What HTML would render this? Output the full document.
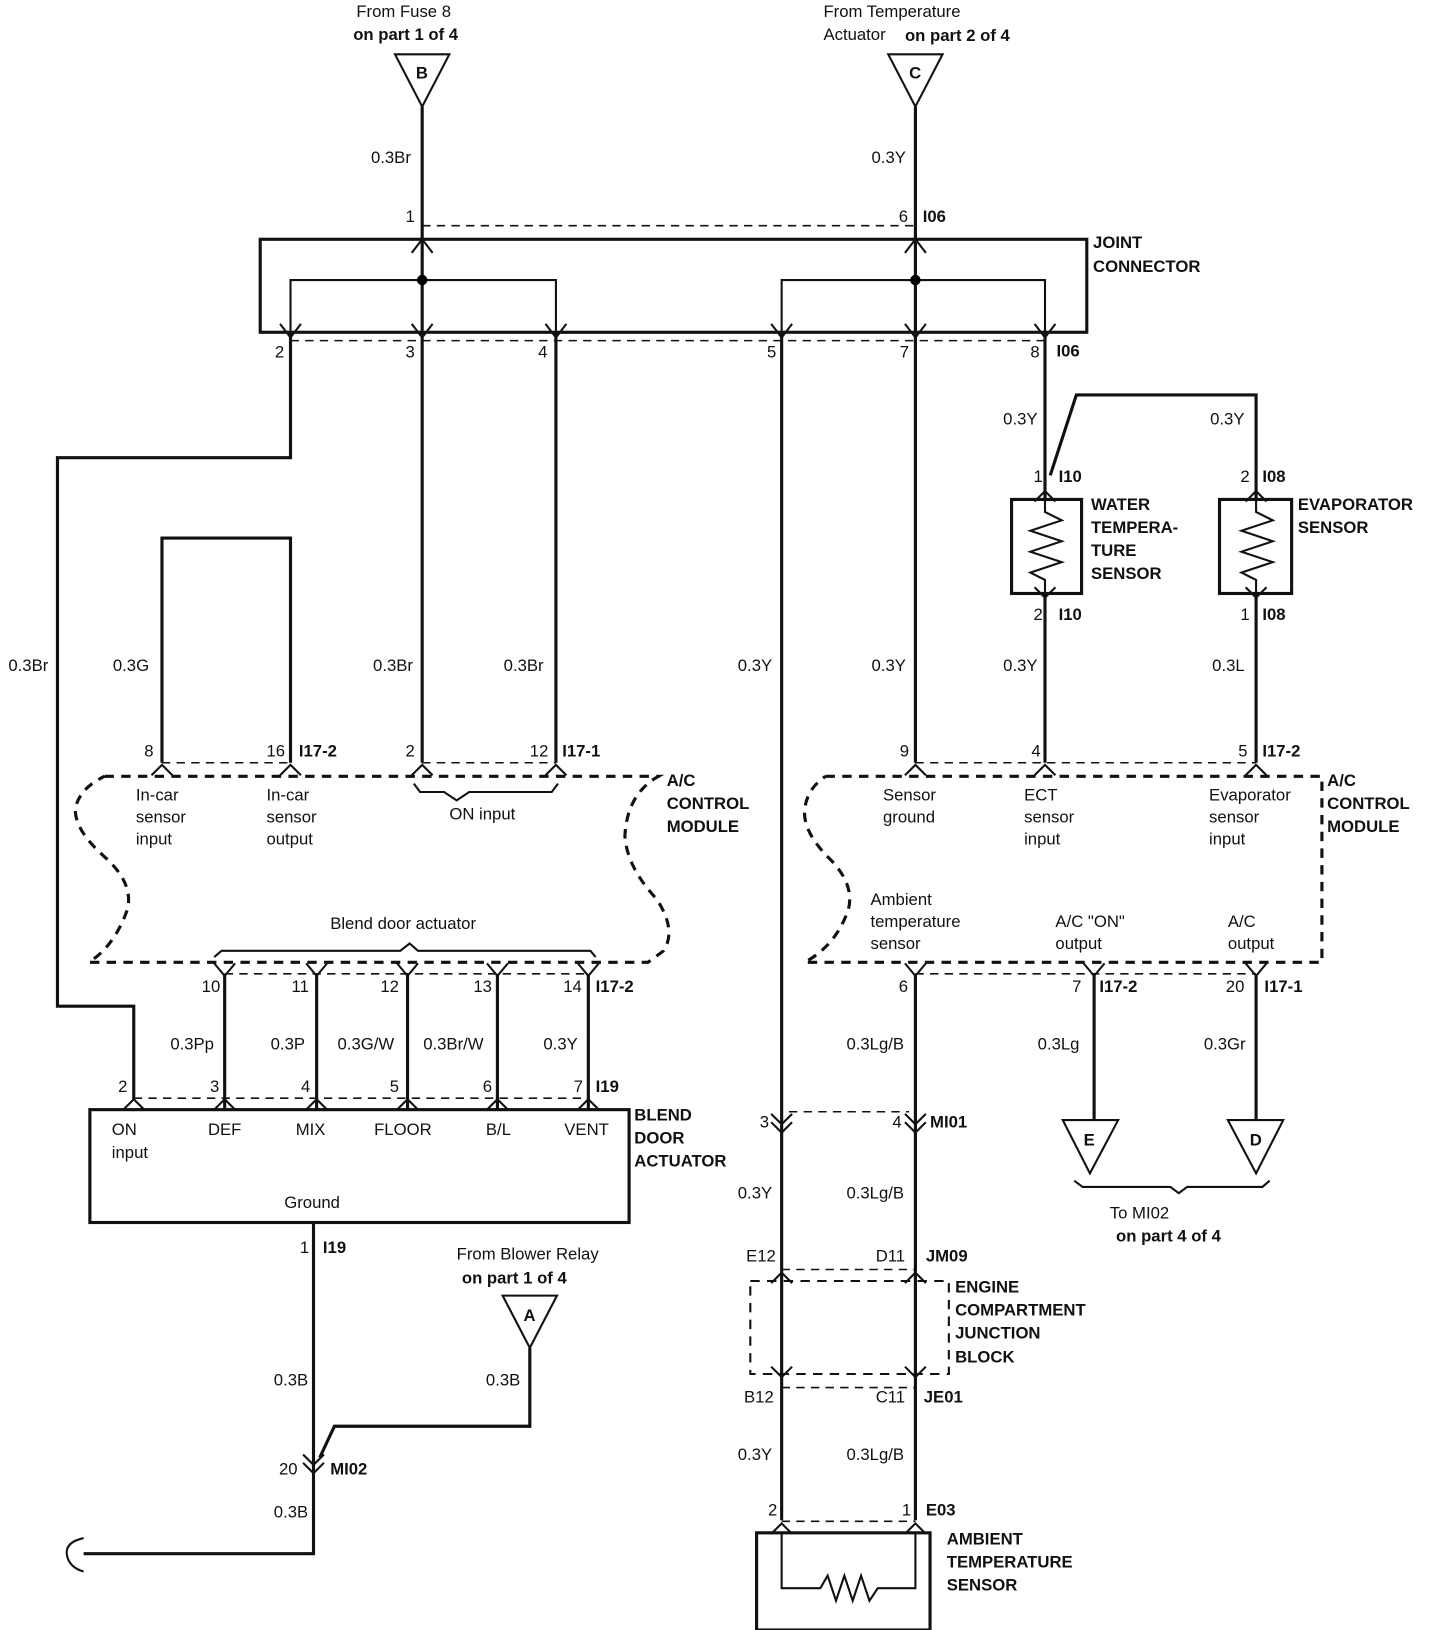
<!DOCTYPE html>
<html><head><meta charset="utf-8"><style>
html,body{margin:0;padding:0;background:#fff}
svg{display:block}
text{font-family:"Liberation Sans",Arial,sans-serif;font-size:16px;fill:#111;dominant-baseline:middle}
.b{font-weight:bold}
.w{stroke:#111;stroke-width:3;fill:none}
.t{stroke:#111;stroke-width:2;fill:none}
.d{stroke:#111;stroke-width:1.5;fill:none;stroke-dasharray:8,6}
.dd{stroke:#111;stroke-width:3;fill:none;stroke-dasharray:9,7}
</style></head><body>
<svg width="1440" height="1630" viewBox="0 0 1378 1560" preserveAspectRatio="none" xmlns="http://www.w3.org/2000/svg">
<!-- top labels -->
<text x="341" y="12">From Fuse 8</text>
<text x="338" y="34" class="b">on part 1 of 4</text>
<polygon class="t" points="378,52 430,52 404,102"/><text x="398" y="71" class="b">B</text>
<text x="788" y="12">From Temperature</text>
<text x="788" y="34">Actuator</text><text x="866" y="35" class="b">on part 2 of 4</text>
<polygon class="t" points="850,52 902,52 876,102"/><text x="870" y="71" class="b">C</text>
<path class="w" d="M404 102V318M876 102V318"/>
<text x="355" y="152">0.3Br</text><text x="834" y="152">0.3Y</text>
<text x="388" y="208">1</text><text x="860" y="208">6</text><text x="883" y="208" class="b">I06</text>
<path class="d" d="M404 216H876"/>
<!-- joint connector -->
<rect class="w" x="249" y="229" width="791" height="89"/>
<text x="1046" y="233" class="b">JOINT</text><text x="1046" y="256" class="b">CONNECTOR</text>
<path class="t" d="M278 318V268H532V318M748 318V268H1000V318"/>
<circle cx="404" cy="268" r="5"/><circle cx="876" cy="268" r="5"/>
<path class="t" d="M394 242L404 229L414 242M866 242L876 229L886 242"/>
<path class="t" d="M268 310L278 323L288 310M394 310L404 323L414 310M522 310L532 323L542 310M738 310L748 323L758 310M866 310L876 323L886 310M990 310L1000 323L1010 310"/>
<path class="d" d="M278 326H1000"/>
<text x="263" y="338">2</text><text x="388" y="338">3</text><text x="515" y="338">4</text><text x="734" y="338">5</text><text x="861" y="338">7</text><text x="986" y="338">8</text><text x="1011" y="337" class="b">I06</text>
<!-- left wires -->
<path class="w" d="M278 318V438H55V963H128V1052"/>
<text x="8" y="638">0.3Br</text>
<path class="w" d="M404 318V730M532 318V730"/>
<text x="357" y="638">0.3Br</text><text x="482" y="638">0.3Br</text>
<path class="w" d="M155 730V515H278V730"/>
<text x="108" y="638">0.3G</text>
<path class="w" d="M748 318V1455M876 318V730"/>
<text x="706" y="638">0.3Y</text><text x="834" y="638">0.3Y</text>
<!-- sensors -->
<path class="w" d="M1000 318V478M1005 455L1030 378H1202V478"/>
<text x="960" y="402">0.3Y</text><text x="1158" y="402">0.3Y</text>
<text x="989" y="457">1</text><text x="1013" y="457" class="b">I10</text>
<text x="1187" y="457">2</text><text x="1208" y="457" class="b">I08</text>
<rect class="w" x="968" y="478" width="67" height="90"/>
<rect class="w" x="1167" y="478" width="69" height="90"/>
<path class="t" d="M1000 478V490L1016 498L986 508L1016 518L986 528L1016 538L986 548L1000 555V568M1202 478V490L1218 498L1188 508L1218 518L1188 528L1218 538L1188 548L1202 555V568"/>
<path class="t" d="M990 480L1000 470L1010 480M1192 480L1202 470L1212 480M990 562L1000 572L1010 562M1192 562L1202 572L1212 562"/>
<text x="1044" y="484" class="b">WATER</text><text x="1044" y="506" class="b">TEMPERA-</text><text x="1044" y="528" class="b">TURE</text><text x="1044" y="550" class="b">SENSOR</text>
<text x="1242" y="484" class="b">EVAPORATOR</text><text x="1242" y="506" class="b">SENSOR</text>
<text x="989" y="589">2</text><text x="1013" y="589" class="b">I10</text>
<text x="1187" y="589">1</text><text x="1208" y="589" class="b">I08</text>
<path class="w" d="M1000 568V730M1202 568V730"/>
<text x="960" y="638">0.3Y</text><text x="1160" y="638">0.3L</text>
<!-- module top pins -->
<text x="138" y="720">8</text><text x="255" y="720">16</text><text x="286" y="720" class="b">I17-2</text>
<text x="388" y="720">2</text><text x="507" y="720">12</text><text x="538" y="720" class="b">I17-1</text>
<text x="861" y="720">9</text><text x="987" y="720">4</text><text x="1185" y="720">5</text><text x="1208" y="720" class="b">I17-2</text>
<path class="d" d="M155 730H278M404 730H532M876 730H1202"/>
<path class="t" d="M145 742L155 732L165 742M268 742L278 732L288 742M394 742L404 732L414 742M522 742L532 732L542 742M866 742L876 732L886 742M990 742L1000 732L1010 742M1192 742L1202 732L1212 742"/>
<!-- left module -->
<path class="dd" d="M100 743H630Q600 760 598 800Q600 830 628 860Q648 890 635 910L620 921H85Q110 905 122 870Q128 845 100 820Q72 795 72 775Q75 755 100 743"/>
<text x="638" y="748" class="b">A/C</text><text x="638" y="770" class="b">CONTROL</text><text x="638" y="792" class="b">MODULE</text>
<text x="130" y="762">In-car</text><text x="130" y="783">sensor</text><text x="130" y="804">input</text>
<text x="255" y="762">In-car</text><text x="255" y="783">sensor</text><text x="255" y="804">output</text>
<path class="t" d="M396 750L402 758H425L437 766L449 758H528L534 750"/>
<text x="430" y="780">ON input</text>
<text x="316" y="885">Blend door actuator</text>
<path class="t" d="M205 916L212 910H383L392 903L400 910H565L570 916"/>
<path class="d" d="M215 932H563"/>
<path class="t" d="M205 922L215 934L225 922M293 922L303 934L313 922M380 922L390 934L400 922M466 922L476 934L486 922M553 922L563 934L573 922"/>
<text x="193" y="945">10</text><text x="279" y="945">11</text><text x="364" y="945">12</text><text x="453" y="945">13</text><text x="539" y="945">14</text><text x="570" y="945" class="b">I17-2</text>
<path class="w" d="M215 932V1062M303 932V1062M390 932V1062M476 932V1062M563 932V1062"/>
<text x="163" y="1000">0.3Pp</text><text x="259" y="1000">0.3P</text><text x="323" y="1000">0.3G/W</text><text x="405" y="1000">0.3Br/W</text><text x="520" y="1000">0.3Y</text>
<text x="113" y="1041">2</text><text x="201" y="1041">3</text><text x="288" y="1041">4</text><text x="373" y="1041">5</text><text x="462" y="1041">6</text><text x="549" y="1041">7</text><text x="570" y="1041" class="b">I19</text>
<path class="d" d="M128 1051H563"/>
<path class="t" d="M118 1062L128 1052L138 1062M205 1062L215 1052L225 1062M293 1062L303 1052L313 1062M380 1062L390 1052L400 1062M466 1062L476 1052L486 1062M553 1062L563 1052L573 1062"/>
<rect class="w" x="86" y="1062" width="516" height="108"/>
<text x="107" y="1082">ON</text><text x="107" y="1104">input</text><text x="199" y="1082">DEF</text><text x="283" y="1082">MIX</text><text x="358" y="1082">FLOOR</text><text x="465" y="1082">B/L</text><text x="540" y="1082">VENT</text>
<text x="272" y="1152">Ground</text>
<text x="607" y="1068" class="b">BLEND</text><text x="607" y="1090" class="b">DOOR</text><text x="607" y="1112" class="b">ACTUATOR</text>
<text x="287" y="1195">1</text><text x="309" y="1195" class="b">I19</text>
<path class="w" d="M300 1170V1487H80"/>
<path class="t" d="M80 1472Q62 1476 64 1488Q66 1500 80 1504"/>
<path class="t" d="M290 1392L300 1402L310 1392M290 1400L300 1410L310 1400"/>
<text x="262" y="1322">0.3B</text><text x="262" y="1448">0.3B</text>
<text x="267" y="1407">20</text><text x="316" y="1407" class="b">MI02</text>
<text x="437" y="1201">From Blower Relay</text><text x="442" y="1224" class="b">on part 1 of 4</text>
<polygon class="t" points="481,1240 533,1240 507,1290"/><text x="501" y="1260" class="b">A</text>
<path class="w" d="M507 1290V1365H320L306 1395"/>
<text x="465" y="1322">0.3B</text>
<!-- right module -->
<path class="dd" d="M790 743H1265V921H770Q800 905 812 870Q818 845 792 820Q768 795 770 775Q772 755 790 743"/>
<text x="1270" y="748" class="b">A/C</text><text x="1270" y="770" class="b">CONTROL</text><text x="1270" y="792" class="b">MODULE</text>
<text x="845" y="762">Sensor</text><text x="845" y="783">ground</text>
<text x="980" y="762">ECT</text><text x="980" y="783">sensor</text><text x="980" y="804">input</text>
<text x="1157" y="762">Evaporator</text><text x="1157" y="783">sensor</text><text x="1157" y="804">input</text>
<text x="833" y="862">Ambient</text><text x="833" y="883">temperature</text><text x="833" y="904">sensor</text>
<text x="1010" y="883">A/C "ON"</text><text x="1010" y="904">output</text>
<text x="1175" y="883">A/C</text><text x="1175" y="904">output</text>
<path class="d" d="M876 932H1202"/>
<path class="t" d="M866 922L876 934L886 922M1037 922L1047 934L1057 922M1192 922L1202 934L1212 922"/>
<text x="860" y="945">6</text><text x="1026" y="945">7</text><text x="1052" y="945" class="b">I17-2</text><text x="1173" y="945">20</text><text x="1210" y="945" class="b">I17-1</text>
<path class="w" d="M876 932V1455M1047 932V1072M1202 932V1072"/>
<text x="810" y="1000">0.3Lg/B</text><text x="993" y="1000">0.3Lg</text><text x="1152" y="1000">0.3Gr</text>
<polygon class="t" points="1017,1072 1070,1072 1043,1123"/><text x="1037" y="1092" class="b">E</text>
<polygon class="t" points="1175,1072 1228,1072 1202,1123"/><text x="1196" y="1092" class="b">D</text>
<path class="t" d="M1028 1130L1036 1136H1120L1128 1142L1136 1136H1208L1215 1130"/>
<text x="1062" y="1162">To MI02</text><text x="1068" y="1184" class="b">on part 4 of 4</text>
<!-- MI01 -->
<path class="d" d="M755 1064H870"/>
<path class="t" d="M738 1066L748 1076L758 1066M738 1074L748 1084L758 1074M866 1066L876 1076L886 1066M866 1074L876 1084L886 1074"/>
<text x="727" y="1075">3</text><text x="854" y="1075">4</text><text x="890" y="1075" class="b">MI01</text>
<text x="706" y="1143">0.3Y</text><text x="810" y="1143">0.3Lg/B</text>
<text x="714" y="1203">E12</text><text x="838" y="1203">D11</text><text x="886" y="1203" class="b">JM09</text>
<path class="d" d="M748 1215H876"/>
<path class="t" d="M738 1228L748 1218L758 1228M866 1228L876 1218L886 1228M738 1308L748 1318L758 1308M866 1308L876 1318L886 1308"/>
<path class="dd" d="M718 1226H908V1315H718Z" style="stroke-width:2"/>
<text x="914" y="1233" class="b">ENGINE</text><text x="914" y="1255" class="b">COMPARTMENT</text><text x="914" y="1277" class="b">JUNCTION</text><text x="914" y="1300" class="b">BLOCK</text>
<path class="d" d="M748 1328H876"/>
<text x="712" y="1338">B12</text><text x="838" y="1338">C11</text><text x="884" y="1338" class="b">JE01</text>
<text x="706" y="1393">0.3Y</text><text x="810" y="1393">0.3Lg/B</text>
<text x="735" y="1446">2</text><text x="863" y="1446">1</text><text x="886" y="1446" class="b">E03</text>
<path class="d" d="M748 1456H876"/>
<path class="t" d="M738 1468L748 1458L758 1468M866 1468L876 1458L886 1468"/>
<rect class="w" x="724" y="1467" width="166" height="93"/>
<path class="t" d="M748 1467V1520H785L792 1508L800 1532L808 1508L816 1532L824 1508L832 1532L840 1520H876V1467"/>
<text x="906" y="1474" class="b">AMBIENT</text><text x="906" y="1496" class="b">TEMPERATURE</text><text x="906" y="1518" class="b">SENSOR</text>
</svg>
</body></html>
